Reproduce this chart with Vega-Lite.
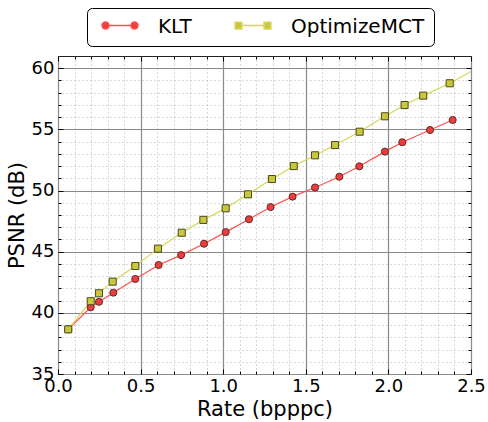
{
  "$schema": "https://vega.github.io/schema/vega-lite/v6.json",
  "width": 413,
  "height": 318,
  "autosize": "none",
  "padding": {"left": 58, "top": 56, "right": 17, "bottom": 48},
  "background": "white",
  "data": {"values": [
    {"series": "KLT", "rate": 0.062, "psnr": 38.65},
    {"series": "KLT", "rate": 0.198, "psnr": 40.45},
    {"series": "KLT", "rate": 0.248, "psnr": 40.9},
    {"series": "KLT", "rate": 0.335, "psnr": 41.65},
    {"series": "KLT", "rate": 0.468, "psnr": 42.77},
    {"series": "KLT", "rate": 0.609, "psnr": 43.91},
    {"series": "KLT", "rate": 0.745, "psnr": 44.72},
    {"series": "KLT", "rate": 0.884, "psnr": 45.65},
    {"series": "KLT", "rate": 1.015, "psnr": 46.6},
    {"series": "KLT", "rate": 1.156, "psnr": 47.65},
    {"series": "KLT", "rate": 1.287, "psnr": 48.65},
    {"series": "KLT", "rate": 1.42, "psnr": 49.5},
    {"series": "KLT", "rate": 1.556, "psnr": 50.25},
    {"series": "KLT", "rate": 1.703, "psnr": 51.13},
    {"series": "KLT", "rate": 1.824, "psnr": 51.98},
    {"series": "KLT", "rate": 1.979, "psnr": 53.18},
    {"series": "KLT", "rate": 2.084, "psnr": 53.95},
    {"series": "KLT", "rate": 2.252, "psnr": 54.95},
    {"series": "KLT", "rate": 2.389, "psnr": 55.77},
    {"series": "OptimizeMCT", "rate": 0.062, "psnr": 38.65},
    {"series": "OptimizeMCT", "rate": 0.198, "psnr": 40.95},
    {"series": "OptimizeMCT", "rate": 0.248, "psnr": 41.6},
    {"series": "OptimizeMCT", "rate": 0.331, "psnr": 42.55},
    {"series": "OptimizeMCT", "rate": 0.468, "psnr": 43.83},
    {"series": "OptimizeMCT", "rate": 0.605, "psnr": 45.25},
    {"series": "OptimizeMCT", "rate": 0.749, "psnr": 46.55},
    {"series": "OptimizeMCT", "rate": 0.88, "psnr": 47.6},
    {"series": "OptimizeMCT", "rate": 1.015, "psnr": 48.55},
    {"series": "OptimizeMCT", "rate": 1.15, "psnr": 49.69},
    {"series": "OptimizeMCT", "rate": 1.295, "psnr": 50.94},
    {"series": "OptimizeMCT", "rate": 1.427, "psnr": 52.0},
    {"series": "OptimizeMCT", "rate": 1.556, "psnr": 52.88},
    {"series": "OptimizeMCT", "rate": 1.677, "psnr": 53.72},
    {"series": "OptimizeMCT", "rate": 1.826, "psnr": 54.81},
    {"series": "OptimizeMCT", "rate": 1.979, "psnr": 56.07},
    {"series": "OptimizeMCT", "rate": 2.098, "psnr": 56.99},
    {"series": "OptimizeMCT", "rate": 2.211, "psnr": 57.76},
    {"series": "OptimizeMCT", "rate": 2.371, "psnr": 58.77},
    {"series": "OptimizeMCT", "rate": 2.55, "psnr": 60.09}
  ]},
  "resolve": {"axis": {"x": "independent", "y": "independent"}},
  "layer": [
    {
      "mark": {"type": "point", "opacity": 0, "clip": true},
      "encoding": {
        "x": {"field": "rate", "type": "quantitative", "scale": {"domain": [0, 2.5], "nice": false, "zero": false},
          "axis": {"orient": "bottom", "values": [0.1,0.2,0.3,0.4,0.6,0.7,0.8,0.9,1.1,1.2,1.3,1.4,1.6,1.7,1.8,1.9,2.1,2.2,2.3,2.4],
            "grid": true, "gridDash": [1, 3], "gridColor": "#b0b0b0", "gridWidth": 1, "labels": false, "tickSize": -3, "title": null}},
        "y": {"field": "psnr", "type": "quantitative", "scale": {"domain": [35, 61], "nice": false, "zero": false},
          "axis": {"orient": "left", "values": [36,37,38,39,41,42,43,44,46,47,48,49,51,52,53,54,56,57,58,59],
            "grid": true, "gridDash": [1, 3], "gridColor": "#b0b0b0", "gridWidth": 1, "labels": false, "tickSize": -3, "title": null}}
      }
    },
    {
      "mark": {"type": "point", "opacity": 0, "clip": true},
      "encoding": {
        "x": {"field": "rate", "type": "quantitative", "scale": {"domain": [0, 2.5], "nice": false, "zero": false},
          "axis": {"orient": "top", "values": [0.1,0.2,0.3,0.4,0.6,0.7,0.8,0.9,1.1,1.2,1.3,1.4,1.6,1.7,1.8,1.9,2.1,2.2,2.3,2.4],
            "grid": false, "labels": false, "tickSize": -3, "title": null}},
        "y": {"field": "psnr", "type": "quantitative", "scale": {"domain": [35, 61], "nice": false, "zero": false},
          "axis": {"orient": "right", "values": [36,37,38,39,41,42,43,44,46,47,48,49,51,52,53,54,56,57,58,59],
            "grid": false, "labels": false, "tickSize": -3, "title": null}}
      }
    },
    {
      "mark": {"type": "point", "opacity": 0, "clip": true},
      "encoding": {
        "x": {"field": "rate", "type": "quantitative", "scale": {"domain": [0, 2.5], "nice": false, "zero": false},
          "axis": {"orient": "top", "values": [0, 0.5, 1, 1.5, 2, 2.5], "grid": false, "labels": false, "tickSize": -5, "title": null}},
        "y": {"field": "psnr", "type": "quantitative", "scale": {"domain": [35, 61], "nice": false, "zero": false},
          "axis": {"orient": "right", "values": [35, 40, 45, 50, 55, 60], "grid": false, "labels": false, "tickSize": -5, "title": null}}
      }
    },
    {
      "mark": {"type": "line", "strokeWidth": 1.2, "clip": true},
      "encoding": {
        "x": {"field": "rate", "type": "quantitative", "scale": {"domain": [0, 2.5], "nice": false, "zero": false},
          "axis": {"orient": "bottom", "values": [0, 0.5, 1, 1.5, 2, 2.5], "format": ".1f", "grid": true, "gridColor": "#8a8a8a", "gridWidth": 1.2,
            "tickSize": -5, "labelPadding": 8, "labelFontSize": 18, "title": "Rate (bpppc)", "titleFontSize": 21, "titlePadding": 3}},
        "y": {"field": "psnr", "type": "quantitative", "scale": {"domain": [35, 61], "nice": false, "zero": false},
          "axis": {"orient": "left", "values": [35, 40, 45, 50, 55, 60], "grid": true, "gridColor": "#8a8a8a", "gridWidth": 1.2,
            "tickSize": -5, "labelPadding": 9, "labelFontSize": 18, "title": "PSNR (dB)", "titleFontSize": 21, "titlePadding": 4}},
        "stroke": {"field": "series", "type": "nominal",
          "scale": {"domain": ["KLT", "OptimizeMCT"], "range": ["#ff5050", "#d6d65a"]},
          "legend": {
            "orient": "none", "legendX": 29, "legendY": -48, "direction": "horizontal", "columns": 2, "title": null,
            "labelFontSize": 20, "labelFont": "DejaVu Sans", "labelColor": "black", "symbolSize": 225, "symbolStrokeWidth": 1.5,
            "labelOffset": 42, "columnPadding": 37, "padding": 9, "strokeColor": "black", "cornerRadius": 5, "fillColor": "white",
            "symbolOpacity": 1,
            "symbolType": {"expr": "datum.value == 'KLT' ? 'M-0.537,-0.2a0.47,0.47 0 1,0 0.94,0a0.47,0.47 0 1,0 -0.94,0M0.403,-0.2L3.33,-0.2M3.33,-0.2a0.47,0.47 0 1,0 0.94,0a0.47,0.47 0 1,0 -0.94,0' : 'M-0.517,-0.65h0.9v0.9h-0.9zM0.383,-0.2L3.35,-0.2M3.35,-0.65h0.9v0.9h-0.9z'"},
            "symbolFillColor": {"expr": "datum.value == 'KLT' ? '#f03c3c' : '#c8c83a'"}
          }}
      }
    },
    {
      "transform": [{"filter": "datum.series == 'KLT'"}],
      "mark": {"type": "point", "shape": "circle", "filled": true, "fill": "#f03c3c", "size": 50, "stroke": "#5a2a2a", "strokeWidth": 1, "opacity": 1, "clip": true},
      "encoding": {
        "x": {"field": "rate", "type": "quantitative", "scale": {"domain": [0, 2.5], "nice": false, "zero": false}, "axis": null},
        "y": {"field": "psnr", "type": "quantitative", "scale": {"domain": [35, 61], "nice": false, "zero": false}, "axis": null}
      }
    },
    {
      "transform": [{"filter": "datum.series == 'OptimizeMCT'"}],
      "mark": {"type": "point", "shape": "square", "filled": true, "fill": "#c8c83a", "size": 50, "stroke": "#4a4a20", "strokeWidth": 1, "opacity": 1, "clip": true},
      "encoding": {
        "x": {"field": "rate", "type": "quantitative", "scale": {"domain": [0, 2.5], "nice": false, "zero": false}, "axis": null},
        "y": {"field": "psnr", "type": "quantitative", "scale": {"domain": [35, 61], "nice": false, "zero": false}, "axis": null}
      }
    }
  ],
  "config": {
    "font": "DejaVu Sans",
    "view": {"stroke": "#222222", "strokeWidth": 1},
    "axis": {"labelFont": "DejaVu Sans", "titleFont": "DejaVu Sans", "labelColor": "black", "titleColor": "black",
      "tickColor": "black", "tickWidth": 1, "domain": false, "labelFlush": false, "titleFontWeight": "normal", "labelOverlap": false}
  }
}
